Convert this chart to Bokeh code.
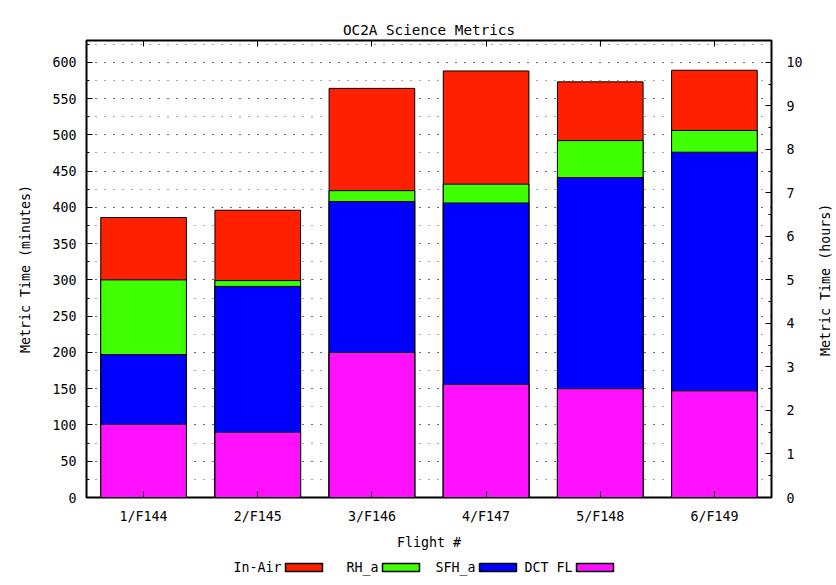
import math
from bokeh.plotting import figure
from bokeh.models import (ColumnDataSource, FactorRange, Range1d, LinearAxis, CategoricalAxis,
                          SingleIntervalTicker, Title)
from bokeh.layouts import column, row
from bokeh.embed import file_html
from bokeh.resources import INLINE
from bokeh.core.properties import value

# ---- data (minutes) ----
flights = ["1/F144", "2/F145", "3/F146", "4/F147", "5/F148", "6/F149"]
in_air = [386, 396, 564, 588, 573, 589]
rh_a = [300, 299, 423, 432, 492, 506]
sfh_a = [197, 291, 408, 406, 441, 476]
dct_fl = [101, 90, 200, 156, 150, 147]
series_names = ["In-Air", "RH_a", "SFH_a", "DCT FL"]
series_colors = ["#ff2000", "#40ff00", "#0000ff", "#ff11ff"]
series_values = [in_air, rh_a, sfh_a, dct_fl]
title_text = "OC2A Science Metrics"
y2_label = "Metric Time (hours)"

FONT = "DejaVu Sans Mono"
FS = "13.3px"

W = 816
FL, FR = 86, 771
BT, BB = 40, 59
p = figure(width=W, height=556, x_range=FactorRange(factors=flights, range_padding=0),
           y_range=Range1d(0, 630), output_backend="svg", toolbar_location=None,
           min_border_left=FL, min_border_right=W - FR, min_border_top=BT, min_border_bottom=BB)
p.extra_y_ranges = {"hours": Range1d(0, 10.5)}

src = ColumnDataSource(dict(x=flights, **{f"s{i}": v for i, v in enumerate(series_values)}))
for i, c in enumerate(series_colors):
    p.vbar(x="x", top=f"s{i}", bottom=0, width=0.75, source=src,
           fill_color=c, line_color="black", line_width=1)

p.outline_line_color = "black"
p.outline_line_width = 2
p.xgrid.grid_line_color = None
p.ygrid.grid_line_color = "black"
p.ygrid.grid_line_dash = "1 8"
p.ygrid.grid_line_alpha = 0.7
p.ygrid.minor_grid_line_color = "black"
p.ygrid.minor_grid_line_dash = "1 8"
p.ygrid.minor_grid_line_alpha = 0.7

left = p.left[0]
bottom = p.below[0]
left.ticker = SingleIntervalTicker(interval=50, num_minor_ticks=2)
left.axis_label = "Metric Time (minutes)"
bottom.axis_label = "Flight #"

right = LinearAxis(y_range_name="hours", ticker=SingleIntervalTicker(interval=1, num_minor_ticks=2))
p.add_layout(right, "right")
top = CategoricalAxis()
p.add_layout(top, "above")

for ax in [bottom, left, right, top]:
    ax.axis_line_color = "black"
    ax.axis_line_width = 1
    ax.major_tick_in = 6
    ax.major_tick_out = 0
    ax.minor_tick_in = 3
    ax.minor_tick_out = 0
    ax.major_tick_line_color = "black"
    ax.minor_tick_line_color = "black"
    ax.major_label_text_font = FONT
    ax.major_label_text_font_size = FS
    ax.major_label_text_color = "black"
    ax.axis_label_text_font = FONT
    ax.axis_label_text_font_size = FS
    ax.axis_label_text_font_style = "normal"
    ax.axis_label_text_color = "black"
top.axis_line_color = None
top.major_label_text_color = None
top.major_label_text_font_size = "9px"
top.major_label_standoff = 0
left.major_label_standoff = 10
right.major_label_standoff = 15
bottom.major_label_standoff = 11
left.axis_label_standoff = 16
bottom.axis_label_standoff = 8

# title added after the top axis so that it sits outside it
p.add_layout(Title(text=title_text, align="center", offset=-10, standoff=5,
                   text_font=FONT, text_font_size="14.3px", text_font_style="normal",
                   text_color="black"), "above")

# ---- right axis title, reading bottom-to-top like gnuplot's y2label ----
SW = 836 - W
side = figure(width=SW, height=556, x_range=Range1d(0, SW), y_range=Range1d(0, 630),
              output_backend="svg", toolbar_location=None,
              min_border_left=0, min_border_right=0, min_border_top=BT, min_border_bottom=BB)
side.axis.visible = False
side.grid.visible = False
side.outline_line_color = None
side.text(x=[9], y=[300], text=[y2_label], angle=math.pi / 2, text_align="center",
          text_baseline="middle", text_font=value(FONT), text_font_size=FS, text_color="black")

# ---- legend (gnuplot style: label, then sample) ----
lg = figure(width=W, height=24, x_range=Range1d(FL, FR), y_range=Range1d(0, 24),
            output_backend="svg", toolbar_location=None,
            min_border_left=FL, min_border_right=W - FR, min_border_top=0, min_border_bottom=0)
lg.axis.visible = False
lg.grid.visible = False
lg.outline_line_color = None
x0, step, sw, sh, yc = 285, 97, 37, 8, 13
sx = [x0 + i * step for i in range(len(series_names))]
lsrc = ColumnDataSource(dict(x=[s + sw / 2 for s in sx], tx=[s - 4 for s in sx],
                             name=series_names, color=series_colors))
lg.rect(x="x", y=yc, width=sw, height=sh, source=lsrc, fill_color="color",
        line_color="black", line_width=1.5)
lg.text(x="tx", y=yc, text="name", source=lsrc, text_align="right", text_baseline="middle",
        text_font=value(FONT), text_font_size=FS, text_color="black")

layout = row(column(p, lg, spacing=0), side, spacing=0)
open("out.html", "w").write(file_html(layout, INLINE))
